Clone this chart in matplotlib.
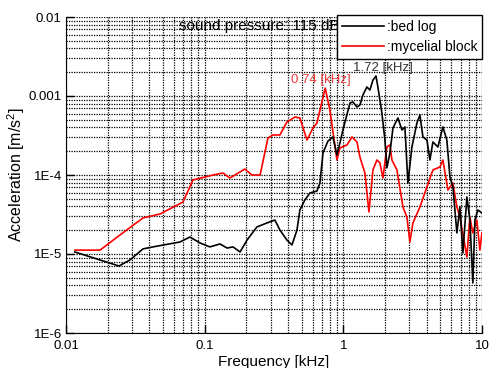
import matplotlib
matplotlib.use("Agg")
import matplotlib.pyplot as plt
from matplotlib.ticker import LogLocator, NullFormatter

plt.rcParams['font.family'] = ['Liberation Sans', 'DejaVu Sans']
plt.rcParams['mathtext.fontset'] = 'custom'
plt.rcParams['mathtext.rm'] = 'Liberation Sans'
plt.rcParams['mathtext.it'] = 'Liberation Sans'

# --- data (frequency in kHz, acceleration in m/s^2) ---
bed_freq = [0.0116, 0.0241, 0.0289, 0.0359, 0.0424, 0.0664, 0.0783, 0.0925, 0.109, 0.129,
            0.145, 0.160, 0.180, 0.202, 0.238, 0.281, 0.321, 0.349, 0.392, 0.426,
            0.463, 0.486, 0.528, 0.574, 0.645, 0.678, 0.713, 0.775, 0.841, 0.899,
            0.945, 0.993, 1.116, 1.173, 1.254, 1.317, 1.384, 1.479, 1.555, 1.635,
            1.72, 1.775, 1.897, 1.995, 2.062, 2.168, 2.279, 2.476, 2.646, 2.78,
            2.922, 3.123, 3.394, 3.567, 3.75, 4.006, 4.21, 4.426, 4.81, 5.224,
            5.58, 5.87, 6.17, 6.59, 6.93, 7.28, 7.78, 8.18, 8.59, 8.89,
            9.34, 9.98]
bed_acc = [1.06e-5, 7.05e-6, 8.4e-6, 1.16e-5, 1.23e-5, 1.42e-5, 1.64e-5, 1.38e-5, 1.23e-5, 1.34e-5,
           1.19e-5, 1.23e-5, 1.06e-5, 1.50e-5, 2.20e-5, 2.47e-5, 2.69e-5, 2.01e-5, 1.50e-5, 1.30e-5,
           2.01e-5, 3.61e-5, 4.83e-5, 5.92e-5, 6.27e-5, 7.92e-5, 1.90e-4, 2.69e-4, 3.03e-4, 1.79e-4,
           2.54e-4, 3.71e-4, 8.15e-4, 8.4e-4, 7.26e-4, 7.69e-4, 1.03e-3, 1.30e-3, 1.19e-3, 1.59e-3,
           1.79e-3, 1.30e-3, 6.09e-4, 2.77e-4, 1.23e-4, 1.90e-4, 3.94e-4, 5.27e-4, 3.71e-4, 4.06e-4,
           7.92e-5, 2.26e-4, 4.55e-4, 5.75e-4, 3.03e-4, 2.77e-4, 1.55e-4, 2.62e-4, 2.26e-4, 4.06e-4,
           2.77e-4, 9.44e-5, 7.05e-5, 1.85e-5, 3.94e-5, 1.03e-5, 5.27e-5, 2.69e-5, 4.30e-6, 2.69e-5,
           3.61e-5, 3.30e-5]

myc_freq = [0.0116, 0.0176, 0.0245, 0.0359, 0.0476, 0.0698, 0.0823, 0.1005, 0.115, 0.1355,
            0.152, 0.195, 0.219, 0.251, 0.286, 0.311, 0.349, 0.392, 0.448, 0.486,
            0.547, 0.604, 0.645, 0.74, 0.80, 0.899, 0.945, 1.062, 1.154, 1.254,
            1.317, 1.431, 1.53, 1.635, 1.747, 1.836, 1.93, 2.062, 2.168, 2.24,
            2.435, 2.69, 2.873, 3.02, 3.176, 3.567, 4.006, 4.426, 4.972, 5.224,
            5.68, 6.17, 6.59, 6.93, 7.78, 8.18, 8.59, 9.18, 9.66, 9.98]
myc_acc = [1.12e-5, 1.12e-5, 1.74e-5, 2.86e-5, 3.21e-5, 4.55e-5, 8.65e-5, 9.44e-5, 1.0e-4, 1.06e-4,
           9.16e-5, 1.19e-4, 1.0e-4, 1.0e-4, 2.94e-4, 3.21e-4, 3.21e-4, 4.69e-4, 5.42e-4, 5.27e-4,
           2.77e-4, 3.94e-4, 4.55e-4, 1.26e-3, 6.65e-4, 1.55e-4, 2.20e-4, 2.40e-4, 3.03e-4, 2.62e-4,
           1.69e-4, 1.06e-4, 3.40e-5, 1.16e-4, 1.55e-4, 1.42e-4, 9.16e-5, 2.26e-4, 2.40e-4, 1.55e-4,
           1.16e-4, 3.94e-5, 2.94e-5, 1.42e-5, 2.47e-5, 3.94e-5, 7.05e-5, 1.16e-4, 1.26e-4, 1.55e-4,
           6.46e-5, 7.92e-5, 3.94e-5, 2.94e-5, 9.16e-6, 2.94e-5, 1.85e-5, 2.69e-5, 1.12e-5, 1.85e-5]

x_ticks = [0.01, 0.1, 1, 10]
x_ticklabels = ['0.01', '0.1', '1', '10']
y_ticks = [1e-6, 1e-5, 1e-4, 1e-3, 1e-2]
y_ticklabels = ['1E-6', '1E-5', '1E-4', '0.001', '0.01']

fig = plt.figure(figsize=(4.91, 3.68), dpi=100)
ax = fig.add_axes([66/491, 1-333/368, (482-66)/491, (333-17)/368])

ax.plot(bed_freq, bed_acc, color='black', lw=1.2, label=':bed log', zorder=3)
ax.plot(myc_freq, myc_acc, color='#ff0000', lw=1.2, label=':mycelial block', zorder=2)

ax.set_xscale('log')
ax.set_yscale('log')
ax.set_xlim(0.01, 10)
ax.set_ylim(1e-6, 1e-2)
ax.set_xticks(x_ticks)
ax.set_xticklabels(x_ticklabels)
ax.set_yticks(y_ticks)
ax.set_yticklabels(y_ticklabels)
ax.xaxis.set_minor_locator(LogLocator(base=10, subs=range(2, 10)))
ax.yaxis.set_minor_locator(LogLocator(base=10, subs=range(2, 10)))
ax.xaxis.set_minor_formatter(NullFormatter())
ax.yaxis.set_minor_formatter(NullFormatter())
ax.tick_params(which='major', direction='in', length=6, width=1, labelsize=9.5)
ax.tick_params(axis='x', which='major', pad=5)
ax.tick_params(axis='y', which='major', pad=3)
ax.tick_params(which='minor', length=0)

ax.grid(True, which='both', color='black', linestyle=(0, (1, 1)), linewidth=0.9)
ax.set_axisbelow(True)
for s in ['top', 'right']:
    ax.spines[s].set_visible(False)

ax.set_xlabel('Frequency [kHz]', fontsize=11, labelpad=2)
ax.set_ylabel('Acceleration [m/s$^2$]', fontsize=11.5)
ax.yaxis.set_label_coords(-0.094, 0.5)

ax.text(0.464, 0.971, 'sound pressure: 115 dB', transform=ax.transAxes,
        ha='center', va='center', fontsize=11, color='black')
ax.text(0.613, 0.80, '0.74 [kHz]', transform=ax.transAxes,
        ha='center', va='center', fontsize=9.5, color='#f03c3c')
ax.text(0.761, 0.84, '1.72 [kHz]', transform=ax.transAxes,
        ha='center', va='center', fontsize=9.5, color='#333333')

leg = ax.legend(loc='upper right', bbox_to_anchor=(1.0, 1.006), borderaxespad=0,
                fontsize=10, frameon=True, fancybox=False, handlelength=3.0,
                handletextpad=0.2, borderpad=0.35, labelspacing=0.45)
leg.get_frame().set_edgecolor('black')
leg.get_frame().set_linewidth(1.0)
leg.get_frame().set_alpha(1)

fig.savefig('out.png', dpi=100)
